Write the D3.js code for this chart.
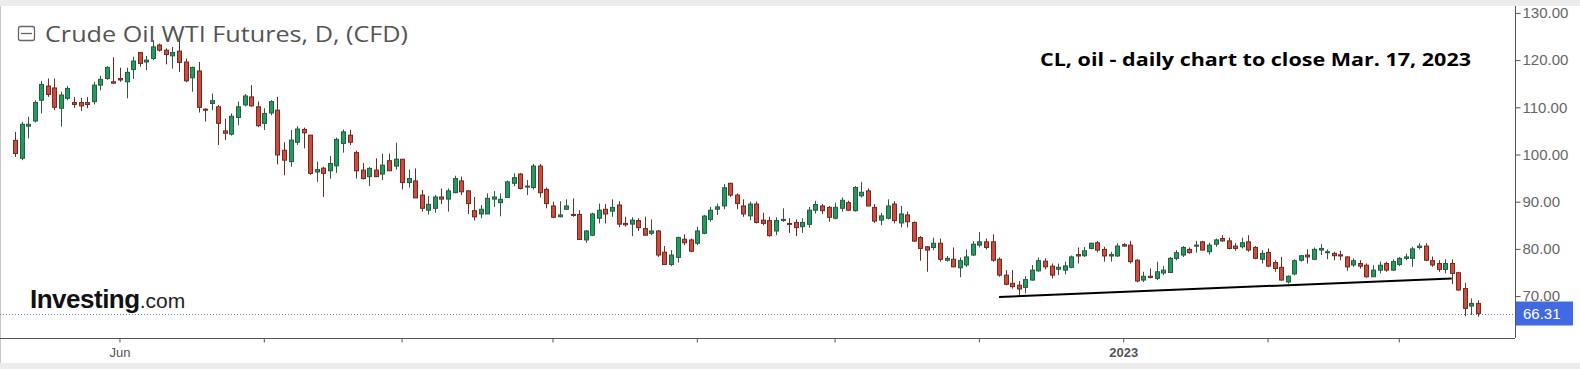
<!DOCTYPE html>
<html><head><meta charset="utf-8">
<script src="https://cdn.jsdelivr.net/npm/d3@7"></script>
<style>body{margin:0;background:#fff}svg{display:block}</style>
</head><body>
<svg id="c" width="1580" height="369"></svg>
<script>
// ---- data ----
const startDate = "2022-05-10", endDate = "2023-03-17";
const opens = [103.0,99.2,106.0,107.1,111.5,114.5,114.1,109.8,111.9,111.0,111.0,111.0,111.2,114.7,116.1,115.4,116.1,115.4,118.0,121.6,
119.6,120.35,123.2,122.1,120.9,121.9,119.6,116.25,117.7,109.6,110.8,110.1,105.0,104.3,107.85,110.5,112.2,110.1,106.6,108.8,
109.4,100.9,98.5,102.6,105.3,104.1,96.3,97.1,96.55,97.6,102.35,104.1,100.4,96.7,95.3,96.7,95.85,98.7,97.55,99.0,
94.05,94.4,91.4,88.2,88.6,91.0,90.55,91.9,94.4,92.3,88.1,87.4,87.4,90.55,89.8,90.9,93.9,95.85,93.15,93.0,
97.55,92.6,89.1,86.8,88.4,87.3,87.3,81.9,82.9,86.5,88.4,88.0,89.3,85.4,85.25,86.0,84.3,83.3,83.8,79.3,
76.7,78.2,82.05,81.9,81.2,83.3,86.25,88.4,89.1,93.9,91.4,89.1,87.0,89.5,86.1,86.0,83.8,86.0,85.4,85.6,
84.7,85.2,88.2,89.1,88.8,86.5,88.6,89.8,88.1,91.25,92.3,88.8,86.1,86.5,89.5,85.5,87.2,85.6,82.4,80.45,
80.3,81.2,77.6,77.8,76.0,76.6,78.7,80.8,81.5,81.5,77.8,74.45,72.7,72.3,71.85,73.4,75.35,77.4,76.35,75.7,
75.5,76.1,78.8,78.55,80.1,81.3,79.9,78.5,78.5,80.9,80.8,77.6,73.4,74.2,73.75,74.9,75.0,78.0,78.7,79.9,
80.6,81.5,79.4,81.0,82.2,81.7,80.6,80.45,81.5,80.3,77.8,79.25,77.1,76.1,73.0,74.7,77.6,78.7,77.8,79.75,
79.2,79.05,78.75,78.3,76.6,76.9,76.55,74.1,75.5,76.9,75.5,76.7,78.0,78.0,80.3,80.6,77.5,76.9,75.65,76.9,
74.95,71.6,67.9,68.45];
const highs = [104.8,106.9,108.0,111.5,115.6,116.1,116.1,113.3,114.5,112.2,112.0,112.2,115.4,116.7,118.7,120.6,118.4,118.4,120.7,121.6,
120.9,124.2,123.5,122.5,122.8,124.2,120.3,118.6,119.6,109.8,112.9,110.5,107.6,108.7,111.2,112.8,114.7,111.2,109.8,111.5,
112.2,102.6,105.2,106.0,105.7,104.1,98.5,97.4,99.7,103.6,105.3,105.2,100.8,98.2,97.4,99.2,100.2,100.2,102.5,99.0,
96.8,97.05,92.5,91.2,91.4,92.8,92.8,95.5,95.3,92.5,91.0,89.3,91.75,92.25,91.75,94.5,96.0,96.1,94.6,98.0,
98.0,93.0,90.0,90.1,90.5,90.7,88.2,84.0,87.65,89.6,89.5,90.5,90.1,86.8,86.7,86.5,86.8,86.25,84.0,80.6,
79.75,82.6,83.1,82.2,84.7,87.2,88.9,89.6,93.7,94.0,91.75,90.5,90.0,90.0,87.65,86.8,86.7,88.6,86.5,86.25,
86.5,88.9,90.2,89.5,89.1,89.8,90.9,90.2,93.3,94.2,92.8,89.5,87.65,90.5,90.1,89.1,87.9,85.8,82.7,80.6,
82.4,82.2,78.5,80.3,78.2,79.9,81.65,83.6,82.2,83.1,78.2,75.5,75.5,73.2,74.2,76.6,78.2,78.0,76.9,76.9,
77.3,78.6,80.3,80.4,81.3,81.7,80.45,79.4,81.2,81.2,81.7,77.8,75.15,75.85,77.3,76.35,78.3,79.75,80.6,80.3,
81.7,81.7,81.3,82.2,82.9,82.4,81.2,82.4,82.9,80.6,79.75,80.1,77.6,78.3,74.4,77.8,78.7,79.9,80.3,81.0,
79.9,79.4,79.6,78.4,78.0,77.6,76.9,76.55,77.3,77.3,77.8,78.3,79.0,80.45,81.2,81.2,78.4,77.6,77.8,77.8,
75.15,72.8,69.5,69.1];
const lows = [99.5,98.8,103.4,106.8,108.7,112.2,109.4,105.9,111.5,109.9,109.2,109.8,110.6,113.6,115.8,115.1,115.4,111.9,116.0,118.6,
117.9,120.0,121.8,119.1,118.2,117.5,115.3,113.3,108.9,107.0,109.4,102.0,103.05,104.0,106.2,110.2,110.1,105.8,105.2,108.3,
97.9,95.6,97.4,102.0,101.3,95.7,94.2,91.0,94.9,96.1,100.4,102.0,94.9,94.7,93.3,95.3,94.6,96.55,96.8,92.6,
93.0,90.8,87.9,87.3,87.65,89.5,87.9,91.8,91.4,87.4,86.0,86.5,87.4,88.9,86.9,90.9,93.3,92.6,91.4,92.6,
90.9,88.6,86.5,86.7,88.3,86.8,81.9,81.3,82.7,85.4,85.4,86.8,84.6,84.7,82.7,83.8,82.9,82.9,78.3,76.6,
76.35,77.1,80.8,79.3,80.8,83.1,85.75,87.2,88.4,91.0,88.4,86.8,86.1,85.4,85.0,82.6,82.9,85.75,83.4,82.7,
83.4,84.5,87.5,87.4,85.75,86.25,87.9,88.1,87.9,90.9,89.0,85.5,85.0,86.25,85.4,84.55,84.55,81.5,77.5,75.15,
79.75,77.3,77.3,76.1,74.0,76.2,78.5,80.3,79.9,77.3,74.1,72.3,71.6,70.2,70.6,73.25,75.15,75.65,73.75,74.45,
74.6,75.9,76.9,78.3,79.9,79.25,77.3,77.3,78.3,80.45,76.9,72.9,73.0,73.75,73.4,74.45,74.9,77.6,78.3,79.0,
79.2,79.65,78.8,80.45,81.5,79.9,79.6,80.1,79.4,77.8,76.9,76.1,75.15,73.25,72.65,74.4,77.3,76.9,77.6,78.7,
77.8,77.6,77.6,75.4,76.2,75.85,73.9,74.1,74.8,75.15,75.3,76.35,77.6,76.2,79.9,77.4,76.2,75.15,74.8,72.55,
71.1,65.75,66.0,65.65];
const closes = [100.2,106.4,106.4,111.0,114.85,112.7,110.0,112.6,114.0,110.6,110.3,110.6,114.7,115.9,118.45,115.1,115.8,117.4,119.8,119.3,
120.0,122.8,122.1,121.2,121.6,119.5,115.6,118.45,110.0,109.4,111.4,106.6,104.5,108.1,110.1,112.4,110.3,106.1,108.7,111.2,
99.9,98.8,103.05,105.4,104.6,96.0,96.8,96.0,98.1,103.2,104.8,102.6,96.55,94.9,97.05,95.3,97.75,96.55,99.0,94.05,
94.9,90.8,88.6,89.45,91.0,90.55,92.3,94.9,92.1,89.6,86.8,88.4,90.7,91.0,90.5,94.2,95.1,92.8,93.3,97.55,
91.9,89.6,86.7,87.2,89.1,87.2,82.0,83.8,87.4,88.2,87.4,88.8,85.25,85.1,86.1,84.5,82.9,83.8,78.7,76.7,
78.7,82.4,81.3,79.5,83.8,86.95,88.2,88.9,92.95,91.4,89.6,87.4,89.5,85.6,85.4,82.8,86.0,86.25,85.2,84.5,
85.6,88.2,89.4,88.1,86.7,88.8,90.3,88.2,93.0,92.0,89.1,85.9,87.0,89.1,86.0,87.4,85.75,81.65,80.1,79.75,
81.2,77.8,78.0,76.2,77.5,78.3,81.0,81.5,80.3,77.6,74.45,72.5,72.0,71.5,73.5,75.5,77.5,76.2,74.45,76.1,
76.4,78.3,78.5,79.6,81.2,79.75,78.5,78.8,80.6,80.6,77.3,73.2,74.2,73.95,75.15,75.5,78.0,79.2,80.3,79.2,
80.8,79.75,80.8,81.9,81.7,80.1,80.1,81.3,79.75,78.0,79.05,76.35,75.85,73.4,74.2,77.5,78.55,78.3,79.9,80.1,
79.4,78.55,78.5,76.2,77.5,76.35,74.1,75.5,76.55,75.5,77.3,78.0,78.3,80.0,80.6,77.6,76.6,75.65,76.9,74.8,
71.3,67.4,68.45,66.31];
const yTicks = [70, 80, 90, 100, 110, 120, 130];
const lastPrice = 66.31;
const trendDates = ["2022-12-06", "2023-03-13"];
const trendValues = [69.8, 73.75];
const titleText = "Crude Oil WTI Futures, D, (CFD)";
const noteText = "CL, oil - daily chart to close Mar. 17, 2023";

// trading-day categories (weekdays between start and end)
const dates = [];
for (let d = new Date(startDate + "T12:00:00Z"); d <= new Date(endDate + "T12:00:00Z"); d.setUTCDate(d.getUTCDate() + 1)) {
  const wd = d.getUTCDay();
  if (wd !== 0 && wd !== 6) dates.push(d.toISOString().slice(0, 10));
}
const candles = dates.map((dt, i) => ({date: dt, o: opens[i], h: highs[i], l: lows[i], c: closes[i]}));

const W = 1580, H = 369;
const svg = d3.select("#c");
const x = d3.scaleBand().domain(dates).range([11.72, 1481.28]).padding(0);
const cx = d => x(d) + x.bandwidth() / 2;
const y = d3.scaleLinear().domain([70, 130]).range([296.1, 12.9]);

// frame
svg.append("rect").attr("x", 0).attr("y", 0).attr("width", W).attr("height", H).attr("fill", "#fff");
svg.append("rect").attr("x", 0).attr("y", 363).attr("width", W).attr("height", 6).attr("fill", "#ececec");
svg.append("line").attr("x1", 0.5).attr("x2", 0.5).attr("y1", 5).attr("y2", 363).attr("stroke", "#c8c8c8");

// last price dotted line
svg.append("line").attr("x1", 0).attr("x2", 1515).attr("y1", Math.round(y(lastPrice)) + 0.5).attr("y2", Math.round(y(lastPrice)) + 0.5)
  .attr("stroke", "#5b7fd6").attr("stroke-width", 1).attr("stroke-dasharray", "1,2");

// candles
const upFill = "#1f9d5f", upLine = "#2a5a40", dnFill = "#d24a3c", dnLine = "#6b2c24";
const g = svg.append("g");
const cg = g.selectAll("g.cdl").data(candles).join("g").attr("class", "cdl");
cg.append("line")
  .attr("x1", d => Math.round(cx(d.date)) + 0.5).attr("x2", d => Math.round(cx(d.date)) + 0.5)
  .attr("y1", d => y(d.h)).attr("y2", d => y(d.l))
  .attr("stroke", d => d.c >= d.o ? upLine : dnLine).attr("stroke-width", 1);
cg.append("rect")
  .attr("x", d => Math.round(cx(d.date)) - 1.5).attr("width", 4)
  .attr("y", d => y(Math.max(d.o, d.c))).attr("height", d => Math.max(1, Math.abs(y(d.o) - y(d.c))))
  .attr("fill", d => d.c >= d.o ? upFill : dnFill)
  .attr("stroke", d => d.c >= d.o ? upLine : dnLine).attr("stroke-width", 1);

// trendline
svg.append("line")
  .attr("x1", cx(trendDates[0])).attr("y1", y(trendValues[0]))
  .attr("x2", cx(trendDates[1])).attr("y2", y(trendValues[1]))
  .attr("stroke", "#000").attr("stroke-width", 2);

// right axis
const yAxis = d3.axisRight(y).tickValues(yTicks).tickFormat(d3.format(".2f")).tickSize(5).tickSizeOuter(0);
const ya = svg.append("g").attr("transform", "translate(1515.5,0)").call(yAxis);
ya.select(".domain").attr("stroke", "#555").attr("d", "M0,5V338");
ya.selectAll(".tick line").attr("stroke", "#555");
ya.selectAll(".tick text").attr("fill", "#666").attr("font-family", "Arial, 'Liberation Sans', sans-serif").attr("font-size", 15).attr("x", 7);

// bottom axis
const monthStarts = dates.filter((d, i) => i > 0 && d.slice(5, 7) !== dates[i - 1].slice(5, 7));
const fmtMonth = d => d.slice(5, 7) === "06" ? "Jun" : (d.slice(5, 7) === "01" ? d.slice(0, 4) : "");
const xa = svg.append("g").attr("transform", "translate(0,338.5)")
  .call(d3.axisBottom(x).tickValues(monthStarts).tickFormat(fmtMonth).tickSize(4).tickSizeOuter(0));
xa.select(".domain").attr("stroke", "#555").attr("d", "M0,0H1515");
xa.selectAll(".tick line").attr("stroke", "#555");
xa.selectAll(".tick text").attr("fill", "#555").attr("font-family", "Arial, 'Liberation Sans', sans-serif")
  .attr("font-size", 13).attr("font-weight", d => d.slice(5, 7) === "01" ? "bold" : "normal").attr("dy", "0.9em");

// last price label
const ly = y(lastPrice);
svg.append("rect").attr("x", 1516).attr("y", ly - 12).attr("width", 57).attr("height", 24).attr("fill", "#4169e1");
svg.append("text").attr("x", 1523).attr("y", ly + 5).attr("fill", "#fff")
  .attr("font-family", "Arial, 'Liberation Sans', sans-serif").attr("font-size", 15).text(lastPrice.toFixed(2));

// title with collapse icon
svg.append("rect").attr("x", 18.5).attr("y", 26.5).attr("width", 16).attr("height", 14).attr("rx", 2)
  .attr("fill", "none").attr("stroke", "#666").attr("stroke-width", 1.3);
svg.append("line").attr("x1", 21).attr("x2", 32).attr("y1", 33.5).attr("y2", 33.5).attr("stroke", "#666").attr("stroke-width", 1.3);
svg.append("text").attr("x", 45).attr("y", 42).attr("fill", "#555")
  .attr("font-family", "'Open Sans', 'Noto Sans', sans-serif").attr("font-size", 22)
  .attr("textLength", 363).attr("lengthAdjust", "spacingAndGlyphs").text(titleText);

// annotation
svg.append("text").attr("x", 1040).attr("y", 66).attr("fill", "#000")
  .attr("font-family", "'Open Sans', sans-serif").attr("font-weight", "bold").attr("font-size", 17)
  .attr("textLength", 431).attr("lengthAdjust", "spacingAndGlyphs").text(noteText);

// watermark logo
const logo = svg.append("text").attr("x", 30).attr("y", 308).attr("font-family", "'Liberation Sans', Arial, sans-serif");
logo.append("tspan").attr("font-weight", "bold").attr("font-size", 26).attr("fill", "#111").attr("letter-spacing", -0.5).text("Investing");
logo.append("tspan").attr("font-size", 21).attr("fill", "#222").text(".com");

// top band drawn last (clips the top tick label like the original)
svg.append("rect").attr("x", 0).attr("y", 0).attr("width", W).attr("height", 6).attr("fill", "#ececec");
</script>
</body></html>
